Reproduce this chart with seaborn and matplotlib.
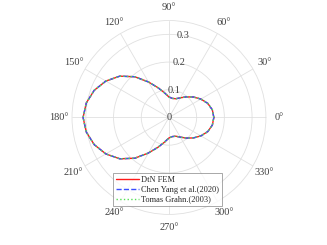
import numpy as np
import pandas as pd
import matplotlib
matplotlib.use("Agg")
import matplotlib.pyplot as plt
import seaborn as sns

# far-field pattern, every 10 degrees
angle_deg = [0, 10, 20, 30, 40, 50, 60, 70, 80, 90, 100, 110, 120, 130, 140, 150, 160, 170,
             180, 190, 200, 210, 220, 230, 240, 250, 260, 270, 280, 290, 300, 310, 320, 330, 340, 350, 360]
r_dtn = [0.162, 0.159, 0.149, 0.133, 0.115, 0.097, 0.082, 0.072, 0.070, 0.074, 0.090, 0.114,
         0.148, 0.192, 0.232, 0.263, 0.287, 0.303, 0.310, 0.303, 0.287, 0.263, 0.232, 0.192,
         0.148, 0.114, 0.090, 0.074, 0.070, 0.072, 0.082, 0.097, 0.115, 0.133, 0.149, 0.159, 0.162]
r_chen = r_dtn
r_grahn = r_dtn

labels = ["DtN FEM", "Chen Yang et al.(2020)", "Tomas Grahn.(2003)"]
colors = ["#ff1a1a", "#3a4dff", "#55e055"]
styles = ["-", "--", ":"]
r_ticks = [0, 0.1, 0.2, 0.3]

sns.set_style("white")
plt.rcParams["font.family"] = ["Liberation Serif", "DejaVu Serif"]

fig = plt.figure(figsize=(3.27, 2.45), dpi=100)
ax = fig.add_axes([0.2202, 0.1245, 0.593, 0.792], projection="polar")

theta = np.deg2rad(angle_deg)
for r, lab, c, ls in zip([r_dtn, r_chen, r_grahn], labels, colors, styles):
    df = pd.DataFrame({"theta": theta, "r": r})
    sns.lineplot(data=df, x="theta", y="r", ax=ax, sort=False, color=c,
                 linestyle=ls, linewidth=1.0, label=lab)

ax.set_ylim(0, 0.35)
ax.set_rgrids(r_ticks, labels=["" for _ in r_ticks])
for rt in r_ticks:
    ax.text(np.deg2rad(80), rt, f"{rt:g}", ha="center", va="center",
            fontsize=7.5, color="#404040")
ax.set_thetagrids(range(0, 360, 30), labels=[f"{a}°" for a in range(0, 360, 30)])
ax.grid(True, color="#e0e0e0", linewidth=0.6)
ax.spines["polar"].set_color("#e0e0e0")
ax.spines["polar"].set_linewidth(0.6)
ax.tick_params(axis="x", labelsize=7.5, colors="#404040", pad=-1.0)
ax.set_xlabel("")
ax.set_ylabel("")

leg = ax.legend(loc="upper left", bbox_to_anchor=(113 / 327, 1 - 173 / 245),
                bbox_transform=fig.transFigure, fontsize=6, frameon=True, fancybox=False,
                edgecolor="#808080", handlelength=2.8, handletextpad=0.3,
                borderpad=0.3, labelspacing=0.25, borderaxespad=0)
leg.get_frame().set_linewidth(0.6)
for t in leg.get_texts():
    t.set_color("#262626")

fig.savefig("out.png", dpi=100)
